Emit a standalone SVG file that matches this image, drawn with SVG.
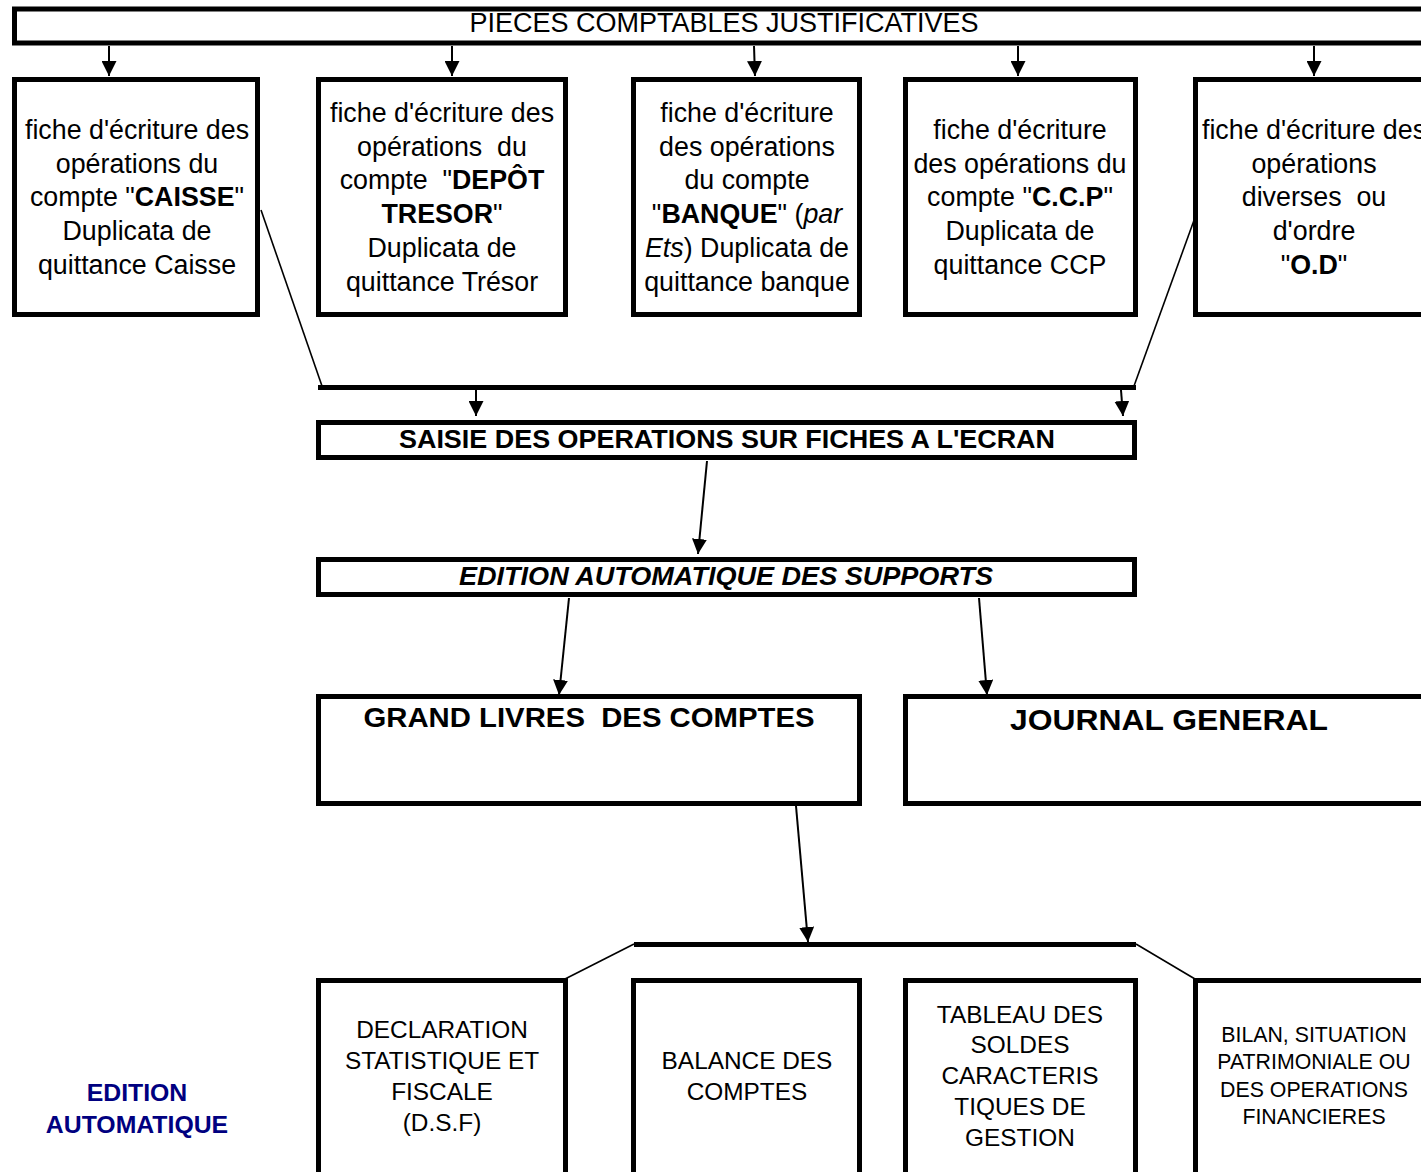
<svg xmlns="http://www.w3.org/2000/svg" width="1421" height="1172" viewBox="0 0 1421 1172">
<style>
  .box { fill: #fff; stroke: #000; stroke-width: 5; }
  .bar { stroke: #000; stroke-width: 5; fill: none; }
  .thin { stroke: #000; stroke-width: 1.6; fill: none; }
  .arr { stroke: #000; stroke-width: 2; fill: none; marker-end: url(#ah); }
  text { font-family: "Liberation Sans", Arial, sans-serif; fill: #000; text-anchor: middle; }
  .t26 { font-size: 26.8px; }
  .t24 { font-size: 24.4px; }
  .t20 { font-size: 21.3px; }
  .b { font-weight: bold; }
  .i { font-style: italic; }
  .blue { fill: #000080; font-weight: bold; font-size: 24.8px; }
</style>
<defs>
  <marker id="ah" markerUnits="userSpaceOnUse" markerWidth="15" markerHeight="15" refX="15" refY="7.5" orient="auto" viewBox="0 0 15 15">
    <path d="M0,0 L15,7.5 L0,15 z" fill="#000"/>
  </marker>
</defs>
<rect width="1421" height="1172" fill="#fff"/>

<g id="connectors">
  <line class="arr" x1="109" y1="46" x2="109" y2="76"/>
  <line class="arr" x1="452" y1="46" x2="452" y2="76"/>
  <line class="arr" x1="754" y1="46" x2="755" y2="76"/>
  <line class="arr" x1="1018" y1="46" x2="1018" y2="76"/>
  <line class="arr" x1="1314" y1="46" x2="1314" y2="76"/>
  <line class="thin" x1="261" y1="210" x2="322" y2="386"/>
  <line class="thin" x1="1197" y1="212" x2="1134" y2="386"/>
  <line class="bar" x1="318" y1="387.5" x2="1136" y2="387.5"/>
  <line class="arr" x1="476" y1="390" x2="476" y2="416"/>
  <line class="arr" x1="1121" y1="390" x2="1123" y2="416"/>
  <line class="arr" x1="707" y1="461" x2="698" y2="554"/>
  <line class="arr" x1="569" y1="598" x2="559" y2="695"/>
  <line class="arr" x1="979" y1="598" x2="987" y2="695"/>
  <line class="arr" x1="796" y1="806" x2="808" y2="942"/>
  <line class="bar" x1="634" y1="944.5" x2="1136" y2="944.5"/>
  <line class="thin" x1="634" y1="944" x2="565" y2="979"/>
  <line class="thin" x1="1136" y1="944" x2="1195" y2="979"/>
</g>

<g id="pieces">
  <rect class="box" x="14.5" y="9" width="1420" height="34"/>
  <text x="724" y="32" font-size="27">PIECES COMPTABLES JUSTIFICATIVES</text>
</g>

<g id="caisse">
  <rect class="box" x="14.5" y="79.5" width="243" height="235"/>
  <text class="t26" x="137" y="139">fiche d'écriture des</text>
  <text class="t26" x="137" y="173">opérations du</text>
  <text class="t26" x="137" y="206">compte "<tspan class="b">CAISSE</tspan>"</text>
  <text class="t26" x="137" y="240">Duplicata de</text>
  <text class="t26" x="137" y="274">quittance Caisse</text>
</g>

<g id="tresor">
  <rect class="box" x="318.5" y="79.5" width="247" height="235"/>
  <text class="t26" x="442" y="122">fiche d'écriture des</text>
  <text class="t26" x="442" y="156" xml:space="preserve">opérations  du</text>
  <text class="t26" x="442" y="189" xml:space="preserve">compte  "<tspan class="b">DEPÔT</tspan></text>
  <text class="t26" x="442" y="223"><tspan class="b">TRESOR</tspan>"</text>
  <text class="t26" x="442" y="257">Duplicata de</text>
  <text class="t26" x="442" y="291">quittance Trésor</text>
</g>

<g id="banque">
  <rect class="box" x="633.5" y="79.5" width="226" height="235"/>
  <text class="t26" x="747" y="122">fiche d'écriture</text>
  <text class="t26" x="747" y="156">des opérations</text>
  <text class="t26" x="747" y="189">du compte</text>
  <text class="t26" x="747" y="223">"<tspan class="b">BANQUE</tspan>" (<tspan class="i">par</tspan></text>
  <text class="t26" x="747" y="257"><tspan class="i">Ets</tspan>) Duplicata de</text>
  <text class="t26" x="747" y="291">quittance banque</text>
</g>

<g id="ccp">
  <rect class="box" x="905.5" y="79.5" width="230" height="235"/>
  <text class="t26" x="1020" y="139">fiche d'écriture</text>
  <text class="t26" x="1020" y="173">des opérations du</text>
  <text class="t26" x="1020" y="206">compte "<tspan class="b">C.C.P</tspan>"</text>
  <text class="t26" x="1020" y="240">Duplicata de</text>
  <text class="t26" x="1020" y="274">quittance CCP</text>
</g>

<g id="od">
  <rect class="box" x="1195.5" y="79.5" width="300" height="235"/>
  <text class="t26" x="1314" y="139">fiche d'écriture des</text>
  <text class="t26" x="1314" y="173">opérations</text>
  <text class="t26" x="1314" y="206" xml:space="preserve">diverses  ou</text>
  <text class="t26" x="1314" y="240">d'ordre</text>
  <text class="t26" x="1314" y="274">"<tspan class="b">O.D</tspan>"</text>
</g>

<g id="saisie">
  <rect class="box" x="318.5" y="422.5" width="816" height="35"/>
  <text class="b" x="727" y="448" font-size="25" textLength="656" lengthAdjust="spacingAndGlyphs">SAISIE DES OPERATIONS SUR FICHES A L'ECRAN</text>
</g>

<g id="edition-supports">
  <rect class="box" x="318.5" y="559.5" width="816" height="35"/>
  <text class="b i" x="726" y="585" font-size="25" textLength="534" lengthAdjust="spacingAndGlyphs">EDITION AUTOMATIQUE DES SUPPORTS</text>
</g>

<g id="grand-livres">
  <rect class="box" x="318.5" y="696.5" width="541" height="107"/>
  <text class="b" x="589" y="727" font-size="27" textLength="451" lengthAdjust="spacingAndGlyphs" xml:space="preserve">GRAND LIVRES  DES COMPTES</text>
</g>

<g id="journal">
  <rect class="box" x="905.5" y="696.5" width="600" height="107"/>
  <text class="b" x="1169" y="730" font-size="30" textLength="318" lengthAdjust="spacingAndGlyphs">JOURNAL GENERAL</text>
</g>

<g id="edition-auto">
  <text class="blue" x="137" y="1101">EDITION</text>
  <text class="blue" x="137" y="1133">AUTOMATIQUE</text>
</g>

<g id="dsf">
  <rect class="box" x="318.5" y="980.5" width="247" height="300"/>
  <text class="t24" x="442" y="1038">DECLARATION</text>
  <text class="t24" x="442" y="1069">STATISTIQUE ET</text>
  <text class="t24" x="442" y="1100">FISCALE</text>
  <text class="t24" x="442" y="1131">(D.S.F)</text>
</g>

<g id="balance">
  <rect class="box" x="633.5" y="980.5" width="226" height="300"/>
  <text class="t24" x="747" y="1069">BALANCE DES</text>
  <text class="t24" x="747" y="1100">COMPTES</text>
</g>

<g id="tableau">
  <rect class="box" x="905.5" y="980.5" width="230" height="300"/>
  <text class="t24" x="1020" y="1023">TABLEAU DES</text>
  <text class="t24" x="1020" y="1053">SOLDES</text>
  <text class="t24" x="1020" y="1084">CARACTERIS</text>
  <text class="t24" x="1020" y="1115">TIQUES DE</text>
  <text class="t24" x="1020" y="1146">GESTION</text>
</g>

<g id="bilan">
  <rect class="box" x="1195.5" y="980.5" width="300" height="300"/>
  <text class="t20" x="1314" y="1042">BILAN, SITUATION</text>
  <text class="t20" x="1314" y="1069">PATRIMONIALE OU</text>
  <text class="t20" x="1314" y="1097">DES OPERATIONS</text>
  <text class="t20" x="1314" y="1124">FINANCIERES</text>
</g>
</svg>
